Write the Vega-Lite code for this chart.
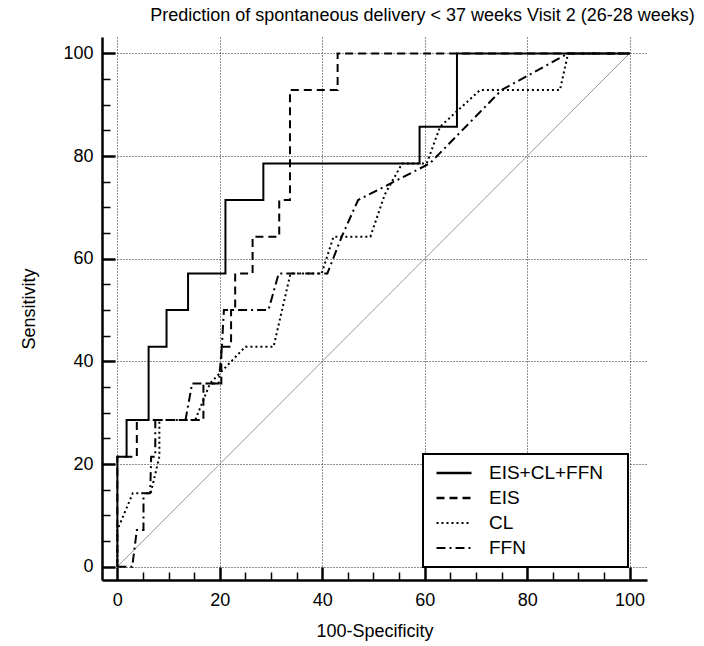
{
  "$schema": "https://vega.github.io/schema/vega-lite/v6.json",
  "width": 545,
  "height": 543,
  "autosize": {"type": "none"},
  "padding": {"left": 102, "top": 37, "right": 57, "bottom": 66},
  "title": {
    "text": "Prediction of spontaneous delivery < 37 weeks Visit 2 (26-28 weeks)",
    "anchor": "middle",
    "dx": 48,
    "fontSize": 18,
    "fontWeight": "normal",
    "font": "Liberation Sans",
    "color": "black",
    "offset": 12
  },
  "config": {
    "view": {"stroke": null},
    "font": "Liberation Sans",
    "legend": {"strokeWidth": 2}
  },
  "datasets": {
    "diag": [{"x": 0, "y": 0}, {"x": 100, "y": 100}],
    "roc": [
      {"model": "EIS+CL+FFN", "i": 1, "x": 0, "y": 0},
      {"model": "EIS+CL+FFN", "i": 2, "x": 0, "y": 21.43},
      {"model": "EIS+CL+FFN", "i": 3, "x": 1.8, "y": 21.43},
      {"model": "EIS+CL+FFN", "i": 4, "x": 1.8, "y": 28.57},
      {"model": "EIS+CL+FFN", "i": 5, "x": 6.1, "y": 28.57},
      {"model": "EIS+CL+FFN", "i": 6, "x": 6.1, "y": 42.86},
      {"model": "EIS+CL+FFN", "i": 7, "x": 9.6, "y": 42.86},
      {"model": "EIS+CL+FFN", "i": 8, "x": 9.6, "y": 50},
      {"model": "EIS+CL+FFN", "i": 9, "x": 13.8, "y": 50},
      {"model": "EIS+CL+FFN", "i": 10, "x": 13.8, "y": 57.14},
      {"model": "EIS+CL+FFN", "i": 11, "x": 21.1, "y": 57.14},
      {"model": "EIS+CL+FFN", "i": 12, "x": 21.1, "y": 71.43},
      {"model": "EIS+CL+FFN", "i": 13, "x": 28.5, "y": 71.43},
      {"model": "EIS+CL+FFN", "i": 14, "x": 28.5, "y": 78.57},
      {"model": "EIS+CL+FFN", "i": 15, "x": 59, "y": 78.57},
      {"model": "EIS+CL+FFN", "i": 16, "x": 59, "y": 85.71},
      {"model": "EIS+CL+FFN", "i": 17, "x": 66.3, "y": 85.71},
      {"model": "EIS+CL+FFN", "i": 18, "x": 66.3, "y": 100},
      {"model": "EIS+CL+FFN", "i": 19, "x": 100, "y": 100},

      {"model": "EIS", "i": 1, "x": 0, "y": 0},
      {"model": "EIS", "i": 2, "x": 0, "y": 21.43},
      {"model": "EIS", "i": 3, "x": 3.8, "y": 21.43},
      {"model": "EIS", "i": 4, "x": 3.8, "y": 28.57},
      {"model": "EIS", "i": 5, "x": 16.8, "y": 28.57},
      {"model": "EIS", "i": 6, "x": 16.8, "y": 35.71},
      {"model": "EIS", "i": 7, "x": 20.3, "y": 35.71},
      {"model": "EIS", "i": 8, "x": 20.3, "y": 42.86},
      {"model": "EIS", "i": 9, "x": 22.2, "y": 42.86},
      {"model": "EIS", "i": 10, "x": 22.2, "y": 50},
      {"model": "EIS", "i": 11, "x": 23, "y": 50},
      {"model": "EIS", "i": 12, "x": 23, "y": 57.14},
      {"model": "EIS", "i": 13, "x": 26.4, "y": 57.14},
      {"model": "EIS", "i": 14, "x": 26.4, "y": 64.29},
      {"model": "EIS", "i": 15, "x": 31.6, "y": 64.29},
      {"model": "EIS", "i": 16, "x": 31.6, "y": 71.43},
      {"model": "EIS", "i": 17, "x": 33.7, "y": 71.43},
      {"model": "EIS", "i": 18, "x": 33.7, "y": 92.86},
      {"model": "EIS", "i": 19, "x": 43, "y": 92.86},
      {"model": "EIS", "i": 20, "x": 43, "y": 100},
      {"model": "EIS", "i": 21, "x": 100, "y": 100},

      {"model": "CL", "i": 1, "x": 0, "y": 0},
      {"model": "CL", "i": 2, "x": 0, "y": 7.14},
      {"model": "CL", "i": 3, "x": 3.0, "y": 14.29},
      {"model": "CL", "i": 4, "x": 6.5, "y": 14.29},
      {"model": "CL", "i": 5, "x": 8.2, "y": 21.43},
      {"model": "CL", "i": 6, "x": 8.2, "y": 28.57},
      {"model": "CL", "i": 7, "x": 15.2, "y": 28.57},
      {"model": "CL", "i": 8, "x": 18.1, "y": 35.71},
      {"model": "CL", "i": 9, "x": 25, "y": 42.86},
      {"model": "CL", "i": 10, "x": 30.5, "y": 42.86},
      {"model": "CL", "i": 11, "x": 33.8, "y": 57.14},
      {"model": "CL", "i": 12, "x": 39.9, "y": 57.14},
      {"model": "CL", "i": 13, "x": 42.2, "y": 64.29},
      {"model": "CL", "i": 14, "x": 49.4, "y": 64.29},
      {"model": "CL", "i": 15, "x": 52.2, "y": 72.5},
      {"model": "CL", "i": 16, "x": 55.6, "y": 78.57},
      {"model": "CL", "i": 17, "x": 60.4, "y": 78.57},
      {"model": "CL", "i": 18, "x": 63, "y": 85.71},
      {"model": "CL", "i": 19, "x": 70.8, "y": 92.86},
      {"model": "CL", "i": 20, "x": 86.4, "y": 92.86},
      {"model": "CL", "i": 21, "x": 88, "y": 100},
      {"model": "CL", "i": 22, "x": 100, "y": 100},

      {"model": "FFN", "i": 1, "x": 0, "y": 0},
      {"model": "FFN", "i": 2, "x": 2.9, "y": 0},
      {"model": "FFN", "i": 3, "x": 3.8, "y": 7.14},
      {"model": "FFN", "i": 4, "x": 5.1, "y": 7.14},
      {"model": "FFN", "i": 5, "x": 5.1, "y": 14.29},
      {"model": "FFN", "i": 6, "x": 6.4, "y": 14.29},
      {"model": "FFN", "i": 7, "x": 6.6, "y": 21.43},
      {"model": "FFN", "i": 8, "x": 7.4, "y": 21.43},
      {"model": "FFN", "i": 9, "x": 7.4, "y": 28.57},
      {"model": "FFN", "i": 10, "x": 13.3, "y": 28.57},
      {"model": "FFN", "i": 11, "x": 14.6, "y": 35.71},
      {"model": "FFN", "i": 12, "x": 19.8, "y": 35.71},
      {"model": "FFN", "i": 13, "x": 20.4, "y": 42.86},
      {"model": "FFN", "i": 14, "x": 20.8, "y": 50},
      {"model": "FFN", "i": 15, "x": 29.5, "y": 50},
      {"model": "FFN", "i": 16, "x": 31.5, "y": 57.14},
      {"model": "FFN", "i": 17, "x": 41, "y": 57.14},
      {"model": "FFN", "i": 18, "x": 43.8, "y": 64.29},
      {"model": "FFN", "i": 19, "x": 47, "y": 71.43},
      {"model": "FFN", "i": 20, "x": 61, "y": 78.57},
      {"model": "FFN", "i": 21, "x": 75, "y": 92.86},
      {"model": "FFN", "i": 22, "x": 88, "y": 100},
      {"model": "FFN", "i": 23, "x": 100, "y": 100}
    ]
  },
  "layer": [
    {
      "data": {"name": "diag"},
      "mark": {"type": "line", "color": "#9a9a9a", "strokeWidth": 1},
      "encoding": {
        "x": {
          "field": "x", "type": "quantitative",
          "scale": {"domain": [-3, 103.4], "nice": false, "zero": false},
          "axis": {
            "orient": "bottom",
            "values": [5, 10, 15, 25, 30, 35, 45, 50, 55, 65, 70, 75, 85, 90, 95],
            "tickSize": -8, "tickWidth": 1.5, "tickColor": "black",
            "labels": false, "domain": false, "grid": false, "title": null
          }
        },
        "y": {
          "field": "y", "type": "quantitative",
          "scale": {"domain": [-2.6, 103.2], "nice": false, "zero": false},
          "axis": {
            "orient": "left",
            "values": [5, 10, 15, 25, 30, 35, 45, 50, 55, 65, 70, 75, 85, 90, 95],
            "tickSize": -8, "tickWidth": 1.5, "tickColor": "black",
            "labels": false, "domain": false, "grid": false, "title": null
          }
        }
      }
    },
    {
      "data": {"name": "roc"},
      "mark": {"type": "line", "color": "black", "strokeWidth": 2},
      "encoding": {
        "x": {
          "field": "x", "type": "quantitative",
          "scale": {"domain": [-3, 103.4], "nice": false, "zero": false},
          "axis": {
            "orient": "bottom",
            "values": [0, 20, 40, 60, 80, 100],
            "tickSize": -13, "tickWidth": 2.5, "tickColor": "black",
            "domainColor": "black", "domainWidth": 2.5,
            "labelPadding": 24, "labelFontSize": 18, "labelColor": "black",
            "labelFont": "Liberation Sans", "labelFlush": false,
            "grid": true, "gridDash": [1, 2], "gridColor": "#222", "gridWidth": 1, "gridOpacity": 1,
            "title": "100-Specificity", "titleFontSize": 18, "titleFontWeight": "normal",
            "titleColor": "black", "titleFont": "Liberation Sans", "titlePadding": 13
          }
        },
        "y": {
          "field": "y", "type": "quantitative",
          "scale": {"domain": [-2.6, 103.2], "nice": false, "zero": false},
          "axis": {
            "orient": "left",
            "values": [0, 20, 40, 60, 80, 100],
            "tickSize": -13, "tickWidth": 2.5, "tickColor": "black",
            "domainColor": "black", "domainWidth": 2.5,
            "labelPadding": 22, "labelFontSize": 18, "labelColor": "black",
            "labelFont": "Liberation Sans",
            "grid": true, "gridDash": [1, 2], "gridColor": "#222", "gridWidth": 1, "gridOpacity": 1,
            "title": "Sensitivity", "titleFontSize": 18, "titleFontWeight": "normal",
            "titleColor": "black", "titleFont": "Liberation Sans", "titlePadding": 24
          }
        },
        "strokeDash": {
          "field": "model", "type": "nominal",
          "scale": {
            "domain": ["EIS+CL+FFN", "EIS", "CL", "FFN"],
            "range": [[1, 0], [8, 5], [2, 3], [9, 4, 2, 4]]
          },
          "legend": {
            "title": " ",
            "titleOrient": "right",
            "titlePadding": 16,
            "orient": "none",
            "legendX": 321,
            "legendY": 417,
            "fillColor": "white",
            "strokeColor": "black",
            "padding": 9,
            "symbolType": "stroke",
            "symbolSize": 1225,
            "symbolStrokeWidth": 2,
            "symbolStrokeColor": "black",
            "symbolOffset": 3,
            "clipHeight": 20,
            "rowPadding": 5,
            "labelOffset": 16,
            "labelFontSize": 19,
            "labelFont": "Liberation Sans",
            "labelColor": "black"
          }
        },
        "strokeWidth": {
          "field": "model", "type": "nominal",
          "scale": {
            "domain": ["EIS+CL+FFN", "EIS", "CL", "FFN"],
            "range": [2.6, 2, 2, 2]
          },
          "legend": null
        },
        "order": {"field": "i", "type": "quantitative"}
      }
    }
  ],
  "resolve": {"axis": {"x": "independent", "y": "independent"}}
}
